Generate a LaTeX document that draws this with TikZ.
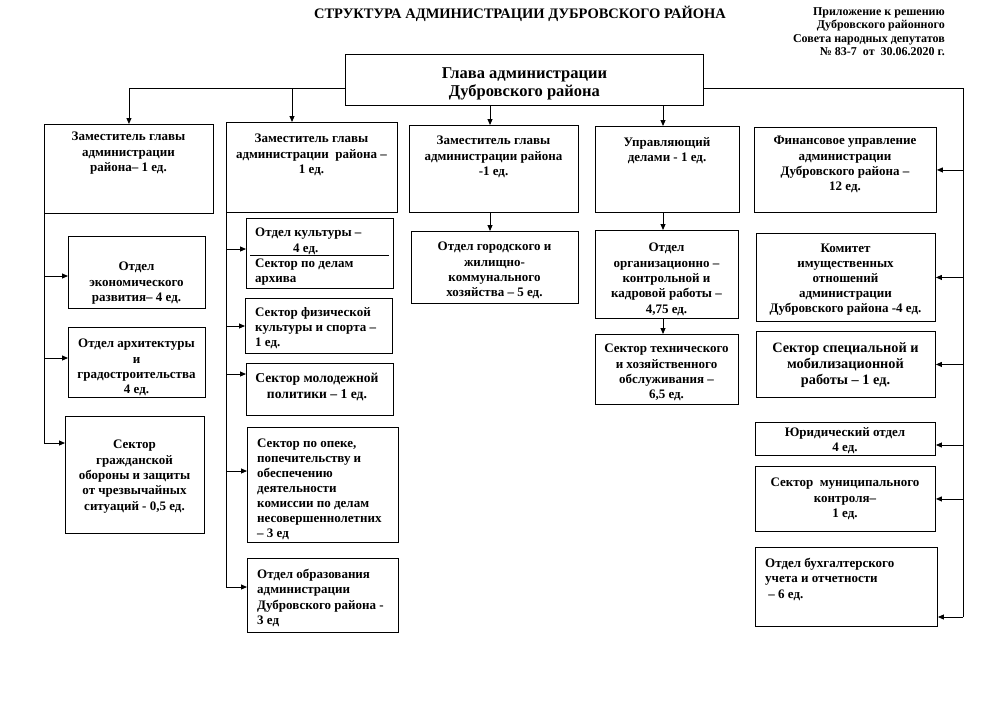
\documentclass[tikz,border=0pt]{standalone}
\usepackage{fontspec}
\setmainfont{Liberation Serif}
\usetikzlibrary{arrows.meta,calc}
\tikzset{
  box/.style={draw, line width=0.9pt, inner sep=0pt, anchor=north west},
  txt/.style={inner sep=0pt, font=\fontsize{13}{15.3}\selectfont\bfseries, align=center, anchor=north, yshift=-3pt},
  ltxt/.style={txt, align=left, anchor=north west},
  bigtxt/.style={txt, font=\fontsize{14.3}{16.2}\selectfont\bfseries},
  arr/.style={line width=0.9pt, -{Triangle[length=6pt,width=5pt]}},
  ln/.style={line width=0.9pt},
}
\newcommand\bx[5]{\node[box, minimum width={(#4-#2)*1pt}, minimum height={(#5-#3)*1pt}] (#1) at (#2,#3) {};}
\begin{document}
\begin{tikzpicture}[x=1pt,y=-1pt]
\useasboundingbox (0,0) rectangle (1000,704);
% header texts
\node[inner sep=0pt, anchor=north, font=\fontsize{14.5}{17}\selectfont\bfseries] (title) at (520,6) {СТРУКТУРА АДМИНИСТРАЦИИ ДУБРОВСКОГО РАЙОНА};
\node[inner sep=0pt, anchor=north east, align=right, font=\fontsize{12}{13.6}\selectfont\bfseries] (appx) at (945,7) {Приложение к решению\\Дубровского районного\\Совета народных депутатов\\№ 83-7 \ от \ 30.06.2020 г.};
% boxes
\bx{head}{345}{54}{703}{105}
\bx{b1}{44}{124}{213}{213}
\bx{b2}{226}{122}{397}{212}
\bx{b3}{409}{125}{578}{212}
\bx{b4}{595}{126}{739}{212}
\bx{b5}{754}{127}{936}{212}
\bx{c1}{68}{236}{205}{308}
\bx{c2}{68}{327}{205}{397}
\bx{c3}{65}{416}{204}{533}
\bx{d1}{246}{218}{393}{288}
\bx{d2}{245}{298}{392}{353}
\bx{d3}{246}{363}{393}{415}
\bx{d4}{247}{427}{398}{542}
\bx{d5}{247}{558}{398}{632}
\bx{e1}{411}{231}{578}{303}
\bx{f1}{595}{230}{738}{318}
\bx{f2}{595}{334}{738}{404}
\bx{g1}{756}{233}{935}{321}
\bx{g2}{756}{331}{935}{397}
\bx{g3}{755}{422}{935}{455}
\bx{g4}{755}{466}{935}{531}
\bx{g5}{755}{547}{937}{626}
% texts
\node[txt, font=\fontsize{16.5}{18.7}\selectfont\bfseries, anchor=center, yshift=-1pt] (headt) at (head.center) {Глава администрации\\Дубровского района};
\node[txt] (b1t) at (128.5,129) {Заместитель главы\\администрации\\района– 1 ед.};
\node[txt] (b2t) at (311.5,131) {Заместитель главы\\администрации \ района –\\1 ед.};
\node[txt] (b3t) at (493.5,133) {Заместитель главы\\администрации района\\-1 ед.};
\node[txt] (b4t) at (667,134) {Управляющий\\делами - 1 ед.};
\node[txt] (b5t) at (845,133) {Финансовое управление\\администрации\\Дубровского района –\\12 ед.};
\node[txt] (c1t) at (136.5,259) {Отдел\\экономического\\развития– 4 ед.};
\node[txt] (c2t) at (136.5,336) {Отдел архитектуры\\и\\градостроительства\\4 ед.};
\node[txt] (c3t) at (134.5,437) {Сектор\\гражданской\\обороны и защиты\\от чрезвычайных\\ситуаций - 0,5 ед.};
\node[ltxt, yshift=1pt] (d1t) at (255,226) {Отдел культуры –\\\hspace*{38pt}4 ед.\\Сектор по делам\\архива};
\node[ltxt] (d2t) at (255,304) {Сектор физической\\культуры и спорта –\\1 ед.};
\node[bigtxt, font=\fontsize{13.6}{15.8}\selectfont\bfseries] (d3t) at (317,370) {Сектор молодежной\\политики – 1 ед.};
\node[ltxt, font=\fontsize{13}{15}\selectfont\bfseries] (d4t) at (257,436) {Сектор по опеке,\\попечительству и\\обеспечению\\деятельности\\комиссии по делам\\несовершеннолетних\\– 3 ед};
\node[ltxt] (d5t) at (257,566) {Отдел образования\\администрации\\Дубровского района -\\3 ед};
\node[txt] (e1t) at (494.5,239) {Отдел городского и\\жилищно-\\коммунального\\хозяйства – 5 ед.};
\node[txt] (f1t) at (666.5,240) {Отдел\\организационно –\\контрольной и\\кадровой работы –\\4,75 ед.};
\node[txt] (f2t) at (666.5,341) {Сектор технического\\и хозяйственного\\обслуживания –\\6,5 ед.};
\node[txt, font=\fontsize{13}{15}\selectfont\bfseries] (g1t) at (845.5,241) {Комитет\\имущественных\\отношений\\администрации\\Дубровского района -4 ед.};
\node[bigtxt] (g2t) at (845.5,339) {Сектор специальной и\\мобилизационной\\работы – 1 ед.};
\node[txt, yshift=-1pt] (g3t) at (845,423) {Юридический отдел\\4 ед.};
\node[txt] (g4t) at (845,475) {Сектор \ муниципального\\контроля–\\1 ед.};
\node[ltxt] (g5t) at (765,555) {Отдел бухгалтерского\\учета и отчетности\\\ – 6 ед.};
% separator inside d1
\draw[ln] ($(d1.north west)+(4,37)$) -- ($(d1.north east)+(-5,37)$);
% connectors from head
\coordinate (busy) at (0,88);
\draw[arr] (head.west |- busy) -| (b1.north);
\coordinate (a2) at (292,88);
\draw[arr] (a2) -- (a2 |- b2.north);
\coordinate (a3) at (490,105);
\draw[arr] (a3 |- head.south) -- (a3 |- b3.north);
\coordinate (a4) at (663,105);
\draw[arr] (a4 |- head.south) -- (a4 |- b4.north);
% right bus
\coordinate (rb) at (963,617);
\draw[ln] (head.east |- busy) -| (rb);
\draw[arr] (rb |- b5.east) -- (b5.east);
\draw[arr] (rb |- g1.east) -- (g1.east);
\draw[arr] (rb |- g2.east) -- (g2.east);
\coordinate (y3) at (0,445);
\draw[arr] (rb |- y3) -- (g3.east |- y3);
\draw[arr] (rb |- g4.east) -- (g4.east);
\draw[arr] (rb) -- (g5.east |- rb);
% left column
\coordinate (lc) at (44,443);
\draw[ln] (b1.south west) -- (lc);
\coordinate (yc1) at (0,276);
\draw[arr] (lc |- yc1) -- (c1.west |- yc1);
\coordinate (yc2) at (0,358);
\draw[arr] (lc |- yc2) -- (c2.west |- yc2);
\draw[arr] (lc) -- (c3.west |- lc);
% second column
\coordinate (mc) at (226,587);
\draw[ln] (b2.south west) -- (mc);
\coordinate (yd1) at (0,249);
\draw[arr] (mc |- yd1) -- (d1.west |- yd1);
\coordinate (yd2) at (0,326);
\draw[arr] (mc |- yd2) -- (d2.west |- yd2);
\coordinate (yd3) at (0,374);
\draw[arr] (mc |- yd3) -- (d3.west |- yd3);
\coordinate (yd4) at (0,471);
\draw[arr] (mc |- yd4) -- (d4.west |- yd4);
\draw[arr] (mc) -- (d5.west |- mc);
% middle columns
\draw[arr] (a3 |- b3.south) -- (a3 |- e1.north);
\draw[arr] (a4 |- b4.south) -- (a4 |- f1.north);
\draw[arr] (a4 |- f1.south) -- (a4 |- f2.north);
\end{tikzpicture}
\end{document}
